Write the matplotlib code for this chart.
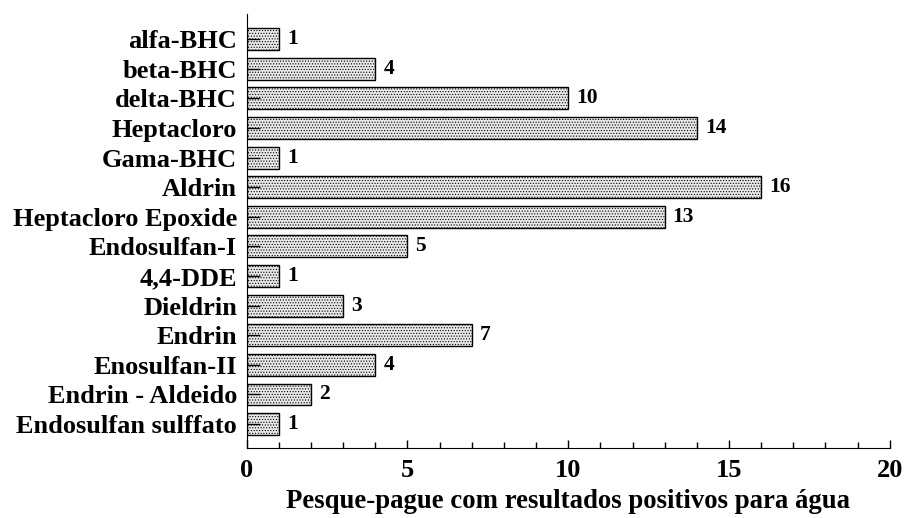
import matplotlib
matplotlib.use("Agg")
import matplotlib.pyplot as plt
import numpy as np

compostos = ["alfa-BHC", "beta-BHC", "delta-BHC", "Heptacloro", "Gama-BHC", "Aldrin",
             "Heptacloro Epoxide", "Endosulfan-I", "4,4-DDE", "Dieldrin", "Endrin",
             "Enosulfan-II", "Endrin - Aldeido", "Endosulfan sulffato"]
positivos = [1, 4, 10, 14, 1, 16, 13, 5, 1, 3, 7, 4, 2, 1]

plt.rcParams['font.family'] = ['Liberation Serif', 'DejaVu Serif']
plt.rcParams['font.weight'] = 'bold'
plt.rcParams['hatch.color'] = '#808080'
plt.rcParams['hatch.linewidth'] = 0.5

fig = plt.figure(figsize=(9.07, 5.18), dpi=100)
ax = fig.add_axes([0.272, 0.135, 0.709, 0.838])

y = np.arange(len(compostos))
bars = ax.barh(y, positivos, height=0.74, color='#e8e8e8', edgecolor='black',
               linewidth=1.0, hatch='......')
for yi, v in zip(y, positivos):
    ax.text(v + 0.25, yi, str(v), va='center', ha='left', fontsize=15.5, fontweight='bold')

ax.set_ylim(13.81, -0.85)
ax.set_xlim(0, 20)
ax.set_yticks(y)
ax.set_yticklabels(compostos, fontsize=19, fontweight='bold')
ax.set_xticks([0, 5, 10, 15, 20])
ax.set_xticks(np.arange(0, 21, 1), minor=True)
ax.tick_params(axis='x', which='major', direction='in', length=6, width=1, labelsize=19, pad=8)
ax.tick_params(axis='x', which='minor', direction='in', length=4, width=1)
ax.tick_params(axis='y', direction='in', length=9, width=1, pad=7)
for lbl in ax.get_xticklabels():
    lbl.set_fontweight('bold')
ax.set_xlabel("Pesque-pague com resultados positivos para água", fontsize=19.3,
              fontweight='bold', labelpad=5)
ax.spines['top'].set_visible(False)
ax.spines['right'].set_visible(False)

fig.savefig("out.png", dpi=100)
